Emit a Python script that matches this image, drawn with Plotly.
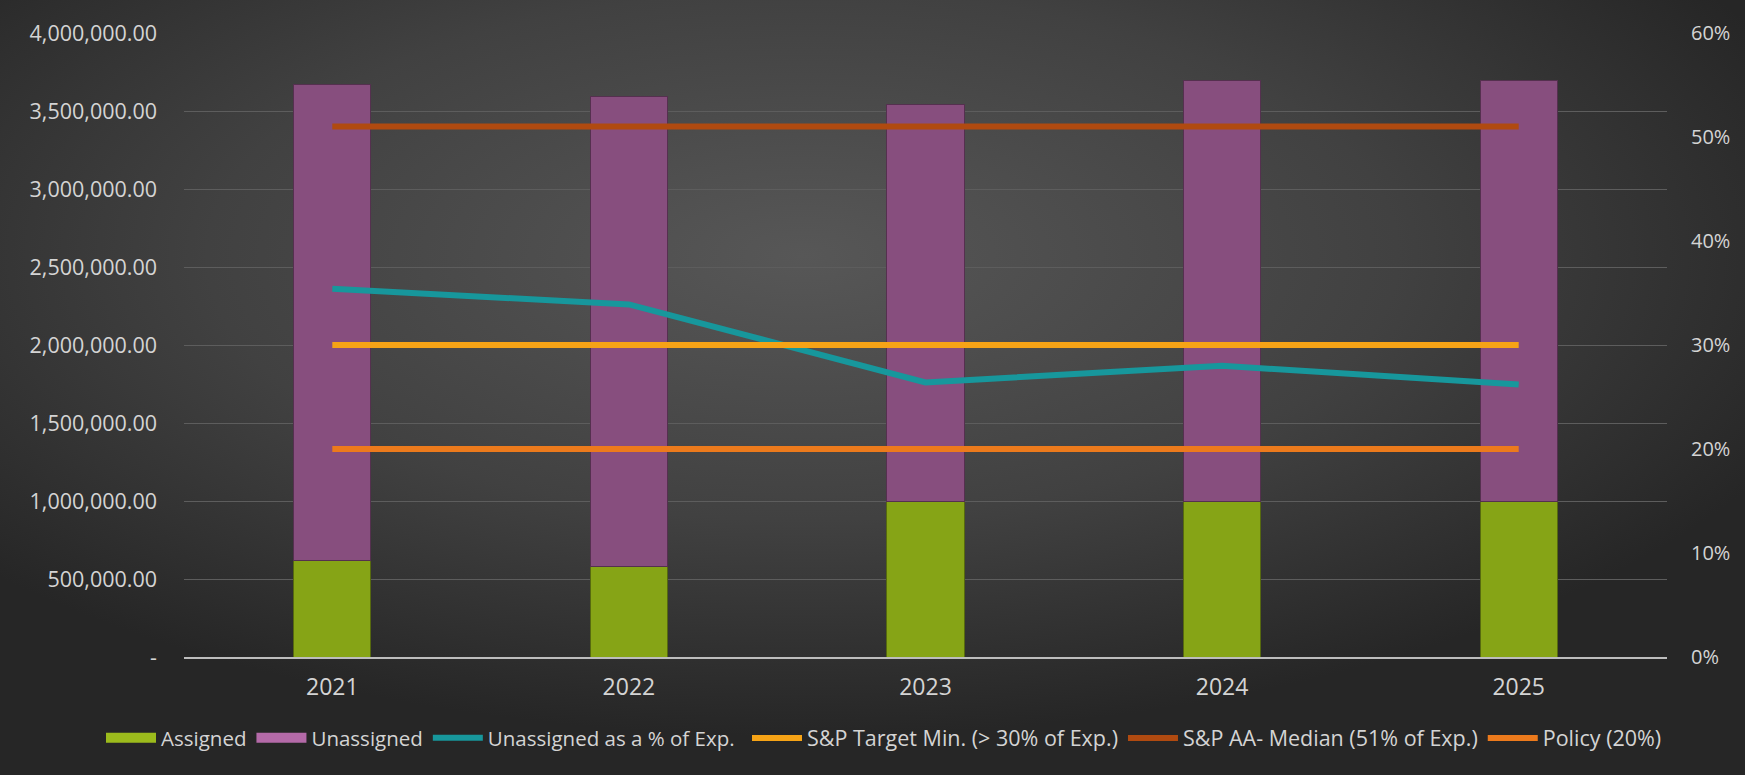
import base64
import plotly.graph_objects as go

# ---- data ----
years = ["2021", "2022", "2023", "2024", "2025"]
assigned = [620000, 580000, 1000000, 1000000, 1000000]
unassigned = [3050000, 3010000, 2540000, 2695000, 2695000]
unassigned_pct = [0.354, 0.339, 0.264, 0.280, 0.262]
sp_target_min = [0.30, 0.30, 0.30, 0.30, 0.30]
sp_aa_median = [0.51, 0.51, 0.51, 0.51, 0.51]
policy = [0.20, 0.20, 0.20, 0.20, 0.20]

y_tickvals = [0, 500000, 1000000, 1500000, 2000000, 2500000, 3000000, 3500000, 4000000]
y_ticktext = ["-", "500,000.00", "1,000,000.00", "1,500,000.00", "2,000,000.00",
              "2,500,000.00", "3,000,000.00", "3,500,000.00", "4,000,000.00"]

W, H = 1745, 775
ML, MR, MT, MB = 184, 78, 33, 118
PW, PH = W - ML - MR, H - MT - MB

svg = f'''<svg xmlns="http://www.w3.org/2000/svg" width="{W}" height="{H}" viewBox="0 0 {W} {H}" preserveAspectRatio="none">
<defs><radialGradient id="g" cx="0.46" cy="0.33" r="0.62" gradientUnits="objectBoundingBox">
<stop offset="0" stop-color="#575757"/><stop offset="0.55" stop-color="#414141"/><stop offset="1" stop-color="#262626"/>
</radialGradient></defs><rect x="0" y="0" width="{W}" height="{H}" fill="url(#g)"/></svg>'''
bg_src = "data:image/svg+xml;base64," + base64.b64encode(svg.encode()).decode()

font_family = "Open Sans"
txt = "#d4d4d4"
green, purple = "#86a416", "#874e7e"

fig = go.Figure()
fig.add_bar(x=years, y=assigned, name="Assigned", legendgroup="assigned", showlegend=False,
            marker=dict(color=green, line=dict(color="#56690f", width=1)))
fig.add_bar(x=years, y=unassigned, name="Unassigned", legendgroup="unassigned", showlegend=False,
            marker=dict(color=purple, line=dict(color="#55304f", width=1)))
# legend swatches for the bar series (flat wide rectangles like the original)
fig.add_scatter(x=[None], y=[None], name="Assigned", legendgroup="assigned", legend="legend",
                mode="lines", line=dict(color="#9cbb1c", width=10), hoverinfo="skip")
fig.add_scatter(x=[None], y=[None], name="Unassigned", legendgroup="unassigned", legend="legend",
                mode="lines", line=dict(color="#b46aa8", width=10), hoverinfo="skip")
fig.add_scatter(x=years, y=unassigned_pct, name="Unassigned as a % of Exp.", yaxis="y2",
                legend="legend", mode="lines", line=dict(color="#17979c", width=6))
fig.add_scatter(x=years, y=sp_target_min, name="S&P Target Min. (> 30% of Exp.)", yaxis="y2",
                legend="legend2", mode="lines", line=dict(color="#f6a316", width=6))
fig.add_scatter(x=years, y=sp_aa_median, name="S&P AA- Median (51% of Exp.)", yaxis="y2",
                legend="legend2", mode="lines", line=dict(color="#b04a10", width=6))
fig.add_scatter(x=years, y=policy, name="Policy (20%)", yaxis="y2",
                legend="legend2", mode="lines", line=dict(color="#ec7a1c", width=6))

leg_common = dict(orientation="h", xref="container", xanchor="left",
                  yref="container", y=(H - 738) / H, yanchor="middle",
                  traceorder="normal", bgcolor="rgba(0,0,0,0)", itemwidth=50, tracegroupgap=0)

fig.update_layout(
    width=W, height=H,
    margin=dict(l=ML, r=MR, t=MT, b=MB, autoexpand=False),
    paper_bgcolor="#333333",
    plot_bgcolor="rgba(0,0,0,0)",
    barmode="stack",
    bargap=0.74,
    font=dict(family=font_family, color=txt),
    showlegend=True,
    legend=dict(x=101 / W, font=dict(size=20.5, color=txt), **leg_common),
    legend2=dict(x=747 / W, font=dict(size=21.5, color=txt), **leg_common),
    xaxis=dict(type="category", range=[-0.5, 4.5], showgrid=False, showline=True,
               linecolor="#bdbdbd", linewidth=2, ticks="", tickfont=dict(size=23, color=txt),
               ticklabelstandoff=8, zeroline=False),
    yaxis=dict(range=[0, 4000000], tickvals=y_tickvals, ticktext=y_ticktext,
               showgrid=True, gridcolor="#5d5d5d", gridwidth=1, zeroline=False,
               showline=False, ticks="", tickfont=dict(size=21.5, color=txt),
               ticklabelstandoff=26),
    yaxis2=dict(overlaying="y", side="right", range=[0, 0.6], dtick=0.1, tick0=0,
                tickformat=".0%", showgrid=False, zeroline=False, showline=False,
                ticks="", tickfont=dict(size=20, color=txt), ticklabelstandoff=23),
    images=[dict(source=bg_src, xref="paper", yref="paper",
                 x=-ML / PW, y=1 + MT / PH, sizex=W / PW, sizey=H / PH,
                 xanchor="left", yanchor="top", sizing="stretch", layer="below")],
)

fig.write_html("out.html", config={"displayModeBar": False},
               post_script="document.body.style.margin='0';document.body.style.overflow='hidden';")
